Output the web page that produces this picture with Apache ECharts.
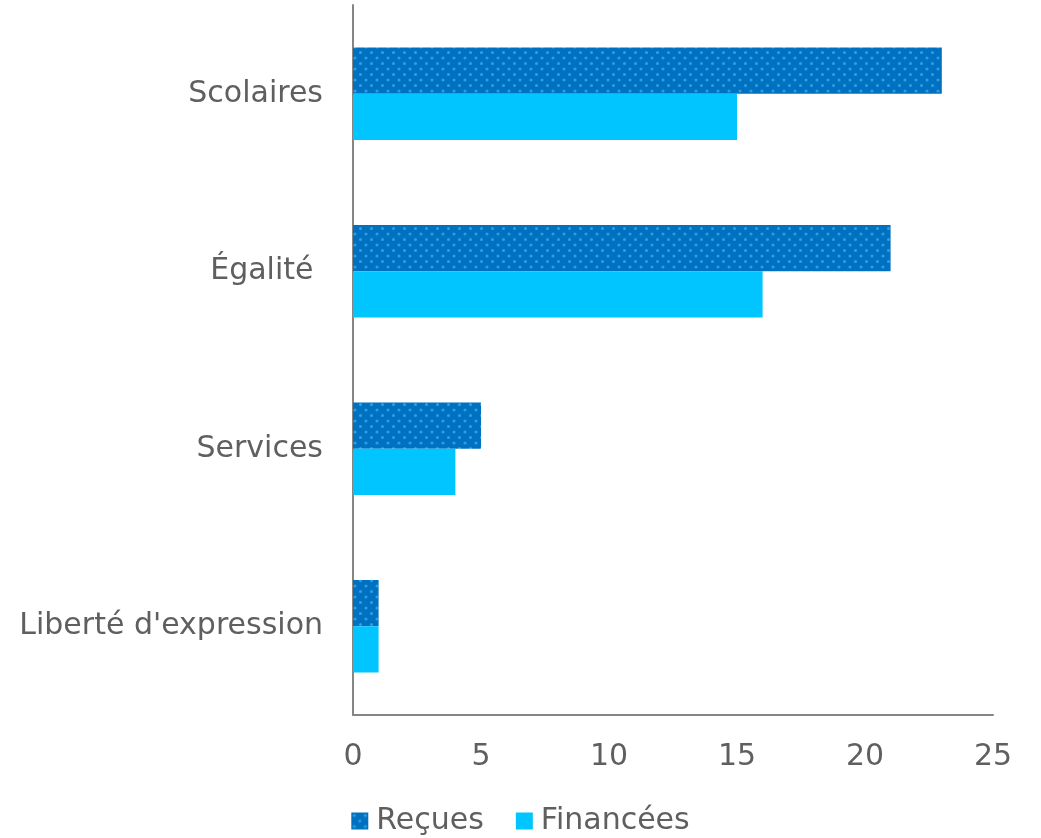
<!DOCTYPE html>
<html>
<head>
<meta charset="utf-8">
<script src="https://cdn.jsdelivr.net/npm/echarts@6/dist/echarts.min.js"></script>
<style>
    html, body { margin: 0; padding: 0; background: #fff; }
    #chart { width: 1041px; height: 838px; }
</style>
</head>
<body>
<div id="chart"></div>
<script>
// données
const categories = ["Liberté d'expression", 'Services', 'Égalité ', 'Scolaires'];
const recues = [1, 5, 21, 23];
const financees = [1, 4, 16, 15];
const xTicks = [0, 5, 10, 15, 20, 25];

// motif pointillé pour "Reçues"
function dotPattern() {
    const c = document.createElement('canvas');
    c.width = 11;
    c.height = 11;
    const ctx = c.getContext('2d');
    ctx.fillStyle = '#0070C0';
    ctx.fillRect(0, 0, 11, 11);
    ctx.fillStyle = '#2a9fe2';
    ctx.beginPath();
    ctx.arc(3, 3, 1.6, 0, Math.PI * 2);
    ctx.arc(8.5, 8.5, 1.6, 0, Math.PI * 2);
    ctx.fill();
    return c;
}
const pattern = { image: dotPattern(), repeat: 'repeat' };

const font = '"DejaVu Sans", sans-serif';
const textColor = '#5f5f5f';
const chart = echarts.init(document.getElementById('chart'));
chart.setOption({
    animation: false,
    grid: { left: 353, right: 48, top: 5, bottom: 123 },
    legend: {
        bottom: -3,
        left: 'center',
        data: ['Reçues', 'Financées'],
        itemWidth: 17,
        itemHeight: 17,
        itemGap: 32,
        icon: 'rect',
        textStyle: { fontFamily: font, fontSize: 30, color: textColor, padding: [0, 0, 0, 3] }
    },
    xAxis: {
        type: 'value',
        min: xTicks[0],
        max: xTicks[xTicks.length - 1],
        interval: 5,
        splitLine: { show: false },
        axisLine: { show: true, lineStyle: { color: '#868686', width: 2 } },
        axisTick: { show: false },
        axisLabel: { fontFamily: font, fontSize: 30, color: textColor, margin: 27 }
    },
    yAxis: {
        type: 'category',
        data: categories,
        axisLine: { show: true, lineStyle: { color: '#868686', width: 2 } },
        axisTick: { show: false },
        axisLabel: { fontFamily: font, fontSize: 30, color: textColor, margin: 30, padding: [8, 0, 0, 0] }
    },
    series: [
        {
            name: 'Reçues',
            type: 'bar',
            data: recues,
            barGap: '0%',
            barCategoryGap: '48%',
            itemStyle: { color: pattern }
        },
        {
            name: 'Financées',
            type: 'bar',
            data: financees,
            barGap: '0%',
            barCategoryGap: '48%',
            itemStyle: { color: '#00C5FF' }
        }
    ]
});
</script>
</body>
</html>
